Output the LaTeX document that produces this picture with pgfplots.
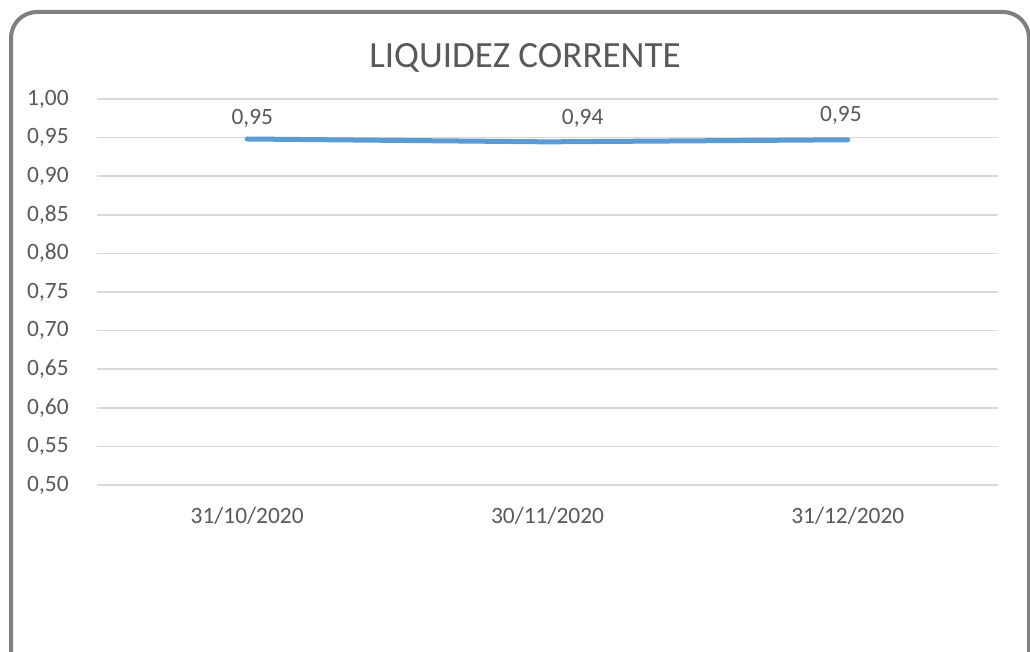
\documentclass[border=0pt]{standalone}
\usepackage{pgfplots}
\pgfplotsset{compat=1.18}
\usepackage{fontspec}
\setmainfont{Carlito}
\definecolor{txtc}{HTML}{595959}
\definecolor{gridc}{HTML}{D9D9D9}
\definecolor{linec}{HTML}{5B9BD5}
\definecolor{framec}{HTML}{7F7F7F}
\begin{document}
\begin{tikzpicture}[x=1pt,y=1pt]
\useasboundingbox (0,0) rectangle (515,326);
\fill[white] (0,0) rectangle (515,326);
\draw[framec, line width=2pt, rounded corners=13pt] (5.5,-15) rectangle (514.5,320);
\node[txtc, font=\fontsize{18.5}{21}\selectfont] at (262.5,297) {LIQUIDEZ CORRENTE};
\begin{axis}[
  at={(48.5pt,83.5pt)}, anchor=south west,
  scale only axis, width=450.5pt, height=193pt,
  xmin=-0.5, xmax=2.5, ymin=0.5, ymax=1.0,
  xtick={0,1,2}, xticklabels={31/10/2020,30/11/2020,31/12/2020},
  ytick={0.5,0.55,0.6,0.65,0.7,0.75,0.8,0.85,0.9,0.95,1.0},
  axis line style={draw=none},
  major tick length=0pt,
  xmajorgrids=false, ymajorgrids=true,
  major grid style={draw=gridc, line width=0.75pt},
  tick label style={txtc, font=\fontsize{11.7}{14}\selectfont},
  yticklabel style={inner sep=0pt, anchor=east, xshift=-14pt,
    /pgf/number format/.cd, fixed, fixed zerofill, precision=2, use comma, assume math mode=true},
  xticklabel style={inner sep=0pt, anchor=north, yshift=-11pt},
  clip=false,
]
\addplot[linec, line width=2.5pt, line cap=round] coordinates {(0,0.9482) (1,0.9445) (2,0.9472)};
\node[txtc, font=\fontsize{11.7}{14}\selectfont] at (axis cs:0.017,0.9754) {0,95};
\node[txtc, font=\fontsize{11.7}{14}\selectfont] at (axis cs:1.117,0.9754) {0,94};
\node[txtc, font=\fontsize{11.7}{14}\selectfont] at (axis cs:1.977,0.9793) {0,95};
\end{axis}
\end{tikzpicture}
\end{document}
